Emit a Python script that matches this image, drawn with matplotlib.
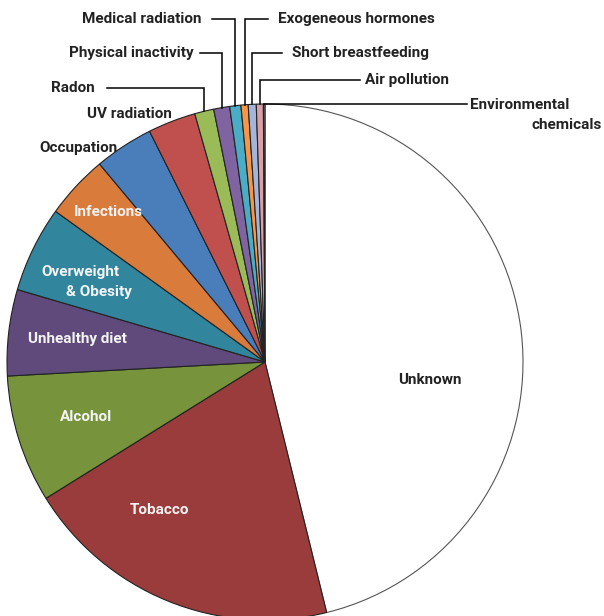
import numpy as np
import matplotlib.pyplot as plt

# shares of cancer cases (%), clockwise from the top
causes = ['Unknown', 'Tobacco', 'Alcohol', 'Unhealthy diet', 'Overweight & Obesity',
          'Infections', 'Occupation', 'UV radiation', 'Radon', 'Physical inactivity',
          'Medical radiation', 'Exogeneous hormones', 'Short breastfeeding',
          'Air pollution', 'Environmental chemicals']
shares = [46.2, 20.0, 8.0, 5.4, 5.4, 4.0, 3.7, 3.0, 1.2, 1.0, 0.7, 0.45, 0.5, 0.44, 0.1]
colors = ['#FFFFFF', '#9A3C3B', '#77933C', '#604A7B', '#31859C', '#D97B3A',
          '#4A7EBB', '#C0504D', '#9BBB59', '#8064A2', '#4BACC6', '#F79646',
          '#A5B5DA', '#D9A0A8', '#7F7F7F']

W, H = 604, 616
fig = plt.figure(figsize=(W / 100, H / 100), dpi=100)
ax = fig.add_axes([0, 0, 1, 1])

cx, cy, R = 265, H - 362, 258
wedges, _ = ax.pie(shares, colors=colors, startangle=90, counterclock=False,
                   center=(cx, cy), radius=R,
                   wedgeprops=dict(edgecolor='#222222', linewidth=0.8))
wedges[0].set_edgecolor('#555555')
ax.set_xlim(0, W)
ax.set_ylim(0, H)
ax.set_aspect('equal')
ax.axis('off')

FONT = 'Roboto'


def px(x, y):
    return x, H - y


def txt(x, y, s, color='#F4F4F4', ha='center', size=11):
    ax.text(*px(x, y), s, color=color, ha=ha, va='center', fontsize=size,
            fontweight='bold', family=FONT)


# labels inside the slices
txt(430, 380, 'Unknown', color='#222222')
txt(160, 510, 'Tobacco')
txt(86, 417, 'Alcohol')
txt(77, 339, 'Unhealthy diet')
txt(80, 272, 'Overweight')
txt(99, 292, '& Obesity')
txt(108, 212, 'Infections')
txt(78, 148, 'Occupation', color='#222222')
txt(129, 114, 'UV radiation', color='#222222')


def rim(i):
    w = wedges[i]
    a = np.deg2rad((w.theta1 + w.theta2) / 2)
    return cx + R * np.cos(a), cy + R * np.sin(a)


# outside labels with elbow leader lines: (index, text x, text y, ha, line start x)
outside = [
    (8, 95, 88, 'right', 107),
    (9, 194, 53, 'right', 200),
    (10, 202, 19, 'right', 212),
    (11, 278, 19, 'left', 268),
    (12, 292, 53, 'left', 282),
    (13, 365, 80, 'left', 360),
]
for i, tx, ty, ha, lx in outside:
    rx, ry = rim(i)
    ly = H - ty
    ax.plot([lx, rx, rx], [ly, ly, ry], color='black', lw=1.1,
            solid_joinstyle='miter')
    txt(tx, ty, causes[i], color='#222222', ha=ha)

rx, ry = rim(14)
ax.plot([rx, 467], [ry, ry], color='black', lw=1.1)
txt(470, 105, 'Environmental', color='#222222', ha='left')
txt(602, 125, 'chemicals', color='#222222', ha='right')

fig.savefig('out.png', dpi=100, facecolor='white')
